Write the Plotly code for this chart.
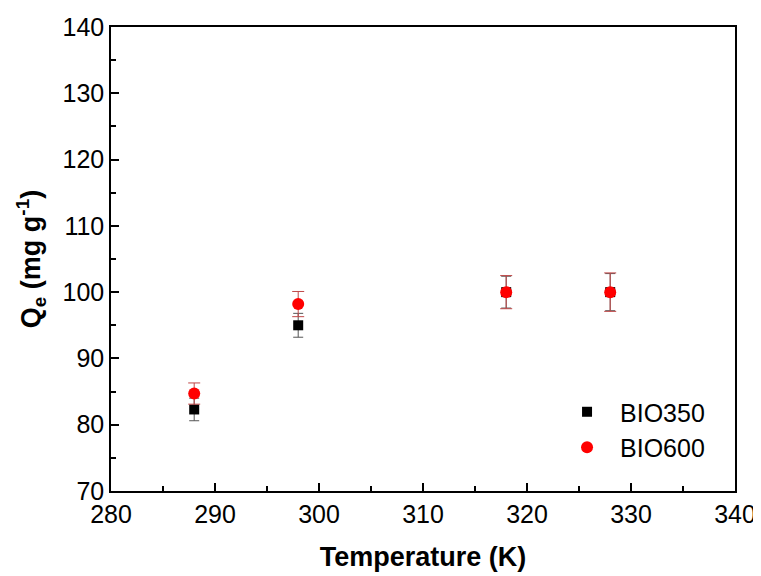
import plotly.graph_objects as go

temps = [288, 298, 318, 328]
bio350 = [82.3, 95.0, 100.0, 100.0]
bio350_err = [1.7, 1.8, 2.4, 2.8]
bio600 = [84.7, 98.2, 100.0, 100.0]
bio600_err = [1.6, 1.9, 2.5, 2.9]

FONT = "Liberation Sans, Arial"

fig = go.Figure()
fig.add_trace(go.Scatter(
    x=temps, y=bio350, mode="markers", name="BIO350",
    marker=dict(symbol="square", size=10, color="black"),
    error_y=dict(type="data", array=bio350_err, color="#555555", thickness=1, width=5),
))
fig.add_trace(go.Scatter(
    x=temps, y=bio600, mode="markers", name="BIO600",
    marker=dict(symbol="circle", size=12, color="#ff0000"),
    error_y=dict(type="data", array=bio600_err, color="#c04848", thickness=1, width=6),
))

axis_common = dict(
    showgrid=False, zeroline=False, showline=True, linecolor="black", linewidth=1.5,
    mirror=True, ticks="inside", ticklen=8, tickwidth=1.5, tickcolor="black",
    automargin=False, ticklabeloverflow="allow",
    tickfont=dict(family=FONT, size=25, color="black"),
)
fig.update_xaxes(
    range=[280, 340], dtick=10, tick0=280,
    minor=dict(dtick=5, ticks="inside", ticklen=5, tickwidth=1.5, tickcolor="black"),
    title=dict(text="<b>Temperature (K)</b>", font=dict(family=FONT, size=27, color="black"), standoff=20),
    **axis_common,
)
fig.update_yaxes(
    range=[70, 140], dtick=10, tick0=70,
    minor=dict(dtick=5, ticks="inside", ticklen=5, tickwidth=1.5, tickcolor="black"),
    title=dict(text="<b>Q<sub>e</sub> (mg g<sup>-1</sup>)</b>", font=dict(family=FONT, size=27, color="black"), standoff=14),
    **axis_common,
)
fig.update_layout(
    width=753, height=568,
    margin=dict(l=103, r=26, t=19, b=85),
    plot_bgcolor="white", paper_bgcolor="white",
    showlegend=True,
    legend=dict(x=0.71, y=0.1325, xanchor="left", yanchor="middle", bgcolor="rgba(0,0,0,0)",
                font=dict(family=FONT, size=25, color="black"),
                itemwidth=56, tracegroupgap=4),
)
fig.write_html("out.html")
